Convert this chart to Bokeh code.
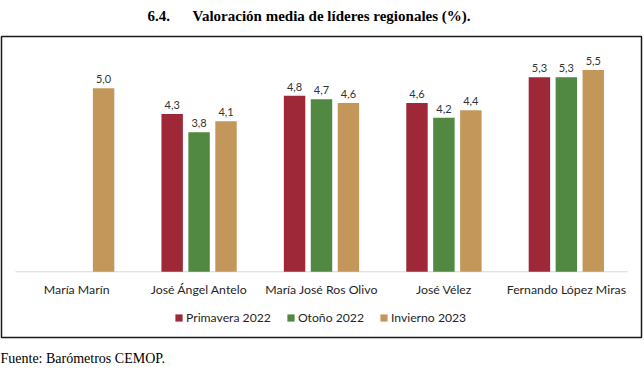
import math
from bokeh.plotting import figure
from bokeh.models import ColumnDataSource, Title, Legend
from bokeh.transform import dodge
from bokeh.core.properties import value
from bokeh.embed import file_html
from bokeh.resources import INLINE

# ---- data ----
leaders = ["María Marín", "José Ángel Antelo", "María José Ros Olivo", "José Vélez", "Fernando López Miras"]
series_names = ["Primavera 2022", "Otoño 2022", "Invierno 2023"]
primavera_2022 = [float("nan"), 4.3, 4.8, 4.6, 5.3]
otono_2022 = [float("nan"), 3.8, 4.7, 4.2, 5.3]
invierno_2023 = [5.0, 4.1, 4.6, 4.4, 5.5]
colors = ["#9E2837", "#518842", "#C3975A"]

title_text = "6.4.\u00a0\u00a0\u00a0\u00a0\u00a0\u00a0Valoración media de líderes regionales (%)."
source_text = "Fuente: Barómetros CEMOP."

def fmt(v):
    return "" if (v is None or (isinstance(v, float) and math.isnan(v))) else f"{v:.1f}".replace(".", ",")

src = ColumnDataSource(dict(
    x=leaders,
    p=primavera_2022, o=otono_2022, i=invierno_2023,
    pl=[fmt(v) for v in primavera_2022],
    ol=[fmt(v) for v in otono_2022],
    il=[fmt(v) for v in invierno_2023],
    base=[0.0] * len(leaders),
))

p = figure(
    x_range=leaders, y_range=(-1.793, 6.413),
    width=644, height=370,
    output_backend="svg", toolbar_location=None,
    x_axis_location=None, y_axis_location=None,
    min_border_left=1, min_border_right=3, min_border_top=36, min_border_bottom=32,
)
p.x_range.range_padding = 0.114
p.x_range.range_padding_units = "absolute"
p.xgrid.visible = False
p.ygrid.visible = False
p.outline_line_color = "#1a1a1a"
p.outline_line_width = 1.5
p.background_fill_color = "white"
p.border_fill_color = "white"

# baseline
p.segment(x0=dodge("x", -0.5, range=p.x_range), x1=dodge("x", 0.5, range=p.x_range),
          y0="base", y1="base", source=src, line_color="#d9d9d9", line_width=1.2)

offs = [-0.22, 0.0, 0.22]
cols = ["p", "o", "i"]
lcols = ["pl", "ol", "il"]
bars = []
for off, c, lc, col, name in zip(offs, cols, lcols, colors, series_names):
    r = p.vbar(x=dodge("x", off, range=p.x_range), top=c, bottom=0, width=0.175,
               source=src, fill_color=col, line_color=None)
    bars.append((name, [r]))
    p.text(x=dodge("x", off, range=p.x_range), y=c, text=lc, source=src,
           text_align="center", text_baseline="bottom", y_offset=-5,
           text_font=value("Lato"), text_font_size="11px", text_color="#333333")

# category labels
p.text(x="x", y="base", text="x", source=src, text_align="center", text_baseline="middle",
       y_offset=18, text_font=value("Lato"), text_font_size="12.3px", text_color="#262626")

legend = Legend(items=bars, orientation="horizontal", location=(173, 12),
                glyph_width=9, glyph_height=9, label_standoff=3, spacing=15,
                padding=0, margin=0, border_line_alpha=0, background_fill_alpha=0,
                label_text_font="Lato", label_text_font_size="12.2px",
                label_text_color="#262626", label_height=12)
p.add_layout(legend, "center")

p.title.text = title_text
p.title.align = "left"
p.title.offset = 146
p.title.padding = (0, 0, 0, 8)
p.title.text_font = "Liberation Serif"
p.title.text_font_style = "bold"
p.title.text_font_size = "15px"
p.title.text_color = "#000000"

p.add_layout(Title(text=source_text, align="left", text_font="Liberation Serif",
                   text_font_style="normal", text_font_size="14px", text_color="#000000",
                   offset=-1, padding=(0, 0, 6, 0)), "below")

open("out.html", "w").write(file_html(p, INLINE))
